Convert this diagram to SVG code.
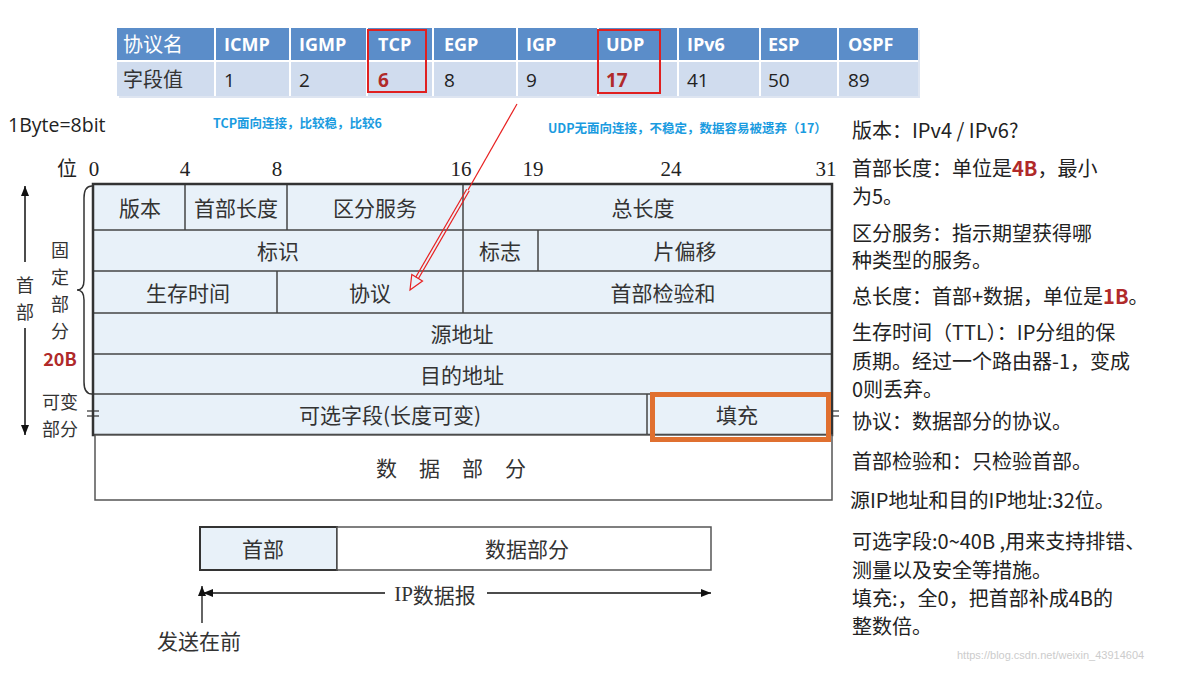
<svg xmlns="http://www.w3.org/2000/svg" width="1178" height="673" viewBox="0 0 1178 673">
<defs>
<style>
.cjk{font-family:"Noto Sans CJK SC","Noto Sans",sans-serif;}
.cell{font-family:"Noto Sans CJK SC",sans-serif;font-size:21px;fill:#333;text-anchor:middle;dominant-baseline:central;}
.side{font-family:"Noto Sans CJK SC",sans-serif;font-size:18px;fill:#333;text-anchor:middle;dominant-baseline:central;}
.bit{font-family:"Liberation Serif",serif;font-size:21px;fill:#222;text-anchor:middle;}
.th{font-family:"Open Sans","Noto Sans CJK SC",sans-serif;font-size:18px;font-weight:bold;fill:#fff;}
.td{font-family:"Open Sans","Noto Sans CJK SC",sans-serif;font-size:19px;fill:#222;}
.note{font-family:"Noto Sans CJK SC",sans-serif;font-size:20px;fill:#222;}
.red{fill:#b02a2a;font-weight:bold;}
.blue{font-family:"Noto Sans CJK SC",sans-serif;font-size:12.5px;font-weight:bold;fill:#1a9be0;}
.grid{stroke:#444;stroke-width:1.5;fill:none;}
.fld{fill:#e8f1f9;}
</style>
<marker id="ah" viewBox="0 0 10 10" refX="10" refY="5" markerWidth="10" markerHeight="10" markerUnits="userSpaceOnUse" orient="auto"><path d="M0,1 L10,5 L0,9 Z" fill="#111"/></marker>
</defs>
<rect width="1178" height="673" fill="#fff"/>

<g id="protocol-table">
<rect x="119" y="30" width="801" height="68" fill="#c8d4e8" opacity="0.6"/>
<rect x="117" y="28" width="801" height="32" fill="#5b8dc9"/>
<rect x="117" y="62" width="801" height="34" fill="#d0dcee"/>
<g stroke="#fff" stroke-width="2">
<line x1="117" y1="61" x2="918" y2="61"/>
<line x1="215" y1="28" x2="215" y2="96"/><line x1="290" y1="28" x2="290" y2="96"/><line x1="367" y1="28" x2="367" y2="96"/><line x1="433" y1="28" x2="433" y2="96"/><line x1="517" y1="28" x2="517" y2="96"/><line x1="598" y1="28" x2="598" y2="96"/><line x1="678" y1="28" x2="678" y2="96"/><line x1="760" y1="28" x2="760" y2="96"/><line x1="838" y1="28" x2="838" y2="96"/>
</g>
<text x="123" y="52" class="cjk" font-size="20" fill="#fff">协议名</text>
<text x="224" y="51" class="th">ICMP</text><text x="299" y="51" class="th">IGMP</text><text x="378" y="51" class="th">TCP</text><text x="444" y="51" class="th">EGP</text><text x="526" y="51" class="th">IGP</text><text x="606" y="51" class="th">UDP</text><text x="687" y="51" class="th">IPv6</text><text x="768" y="51" class="th">ESP</text><text x="848" y="51" class="th">OSPF</text>
<text x="123" y="87" class="cjk" font-size="20" fill="#333">字段值</text>
<text x="224" y="87" class="td">1</text><text x="299" y="87" class="td">2</text><text x="378" y="87" class="td red">6</text><text x="444" y="87" class="td">8</text><text x="526" y="87" class="td">9</text><text x="606" y="87" class="td red">17</text><text x="687" y="87" class="td">41</text><text x="768" y="87" class="td">50</text><text x="848" y="87" class="td">89</text>
<rect x="368" y="30" width="58" height="62" fill="none" stroke="#e02020" stroke-width="2"/>
<rect x="598" y="30" width="62" height="63" fill="none" stroke="#e02020" stroke-width="2"/>
</g>

<g id="annotations">
<text x="8" y="132" font-family="Open Sans,Noto Sans,sans-serif" font-size="19.5" fill="#222">1Byte=8bit</text>
<text x="213" y="128" class="blue">TCP面向连接，比较稳，比较6</text>
<text x="548" y="133" class="blue">UDP无面向连接，不稳定，数据容易被遗弃（17）</text>
</g>

<g id="bit-scale">
<text x="67" y="176" class="cjk" font-size="20" fill="#222" text-anchor="middle">位</text>
<text x="94" y="176" class="bit">0</text><text x="185" y="176" class="bit">4</text><text x="277" y="176" class="bit">8</text><text x="461" y="176" class="bit">16</text><text x="533" y="176" class="bit">19</text><text x="671" y="176" class="bit">24</text><text x="826" y="176" class="bit">31</text>
</g>

<g id="header-fields">
<rect x="93" y="184" width="739" height="251" class="fld"/>
<g class="grid">
<line x1="93" y1="230" x2="832" y2="230"/><line x1="93" y1="271" x2="832" y2="271"/><line x1="93" y1="313" x2="832" y2="313"/><line x1="93" y1="354" x2="832" y2="354"/><line x1="93" y1="394" x2="832" y2="394"/>
<line x1="185" y1="184" x2="185" y2="230"/><line x1="287" y1="184" x2="287" y2="230"/><line x1="463" y1="184" x2="463" y2="313"/><line x1="538" y1="230" x2="538" y2="271"/><line x1="277" y1="271" x2="277" y2="313"/><line x1="647" y1="394" x2="647" y2="435"/>
</g>
<rect x="93" y="184" width="739" height="251" fill="none" stroke="#333" stroke-width="2.5"/>
<text x="140" y="207" class="cell">版本</text><text x="236" y="207" class="cell">首部长度</text><text x="375" y="207" class="cell">区分服务</text><text x="643" y="207" class="cell">总长度</text>
<text x="278" y="250" class="cell">标识</text><text x="500" y="250" class="cell">标志</text><text x="685" y="250" class="cell">片偏移</text>
<text x="188" y="292" class="cell">生存时间</text><text x="370" y="292" class="cell">协议</text><text x="663" y="292" class="cell">首部检验和</text>
<text x="462" y="333" class="cell">源地址</text>
<text x="462" y="374" class="cell">目的地址</text>
<text x="390" y="414" class="cell">可选字段(长度可变)</text>
<g stroke="#333" stroke-width="1.2"><line x1="87" y1="411" x2="99" y2="411"/><line x1="87" y1="416" x2="99" y2="416"/><line x1="827" y1="411" x2="839" y2="411"/><line x1="827" y1="416" x2="839" y2="416"/></g>
</g>

<g id="data-part">
<rect x="95" y="435" width="737" height="65" fill="#fff" stroke="#555" stroke-width="1.5"/>
<text x="462" y="467" class="cell" letter-spacing="22">数据部分</text>
</g>

<g id="padding-highlight">
<rect x="652.5" y="394.5" width="176" height="45" fill="none" stroke="#e07030" stroke-width="5"/>
<text x="737" y="414" class="cell">填充</text>
</g>

<g id="left-labels">
<text x="25" y="284" class="side" font-size="19">首</text><text x="25" y="311" class="side" font-size="19">部</text>
<text x="60" y="249" class="side">固</text><text x="60" y="276" class="side">定</text><text x="60" y="303" class="side">部</text><text x="60" y="330" class="side">分</text>
<text x="60" y="358" class="side red" font-family="Open Sans,sans-serif" font-size="18">20B</text>
<text x="60" y="401" class="side">可变</text><text x="60" y="428" class="side">部分</text>
<path d="M92,186 Q84,186 84,198 L84,280 Q84,290 77,290 Q84,290 84,300 L84,382 Q84,394 92,394" fill="none" stroke="#333" stroke-width="1.5"/>
</g>

<g id="datagram">
<rect x="200" y="527" width="137" height="43" fill="#e8f1f9" stroke="#333" stroke-width="2"/>
<rect x="337" y="527" width="374" height="43" fill="#fff" stroke="#555" stroke-width="1.5"/>
<text x="263" y="548" class="cell">首部</text>
<text x="527" y="548" class="cell">数据部分</text>
<text x="435" y="594" class="cell"><tspan font-family="Liberation Serif,serif">IP</tspan>数据报</text>
<text x="199" y="640" class="cell">发送在前</text>
</g>

<g id="connectors">
<line x1="25" y1="262" x2="25" y2="186" stroke="#111" stroke-width="1.5" marker-end="url(#ah)"/>
<line x1="25" y1="328" x2="25" y2="435" stroke="#111" stroke-width="1.5" marker-end="url(#ah)"/>
<line x1="385" y1="593" x2="203" y2="593" stroke="#111" stroke-width="1.3" marker-end="url(#ah)"/>
<line x1="487" y1="593" x2="711" y2="593" stroke="#111" stroke-width="1.3" marker-end="url(#ah)"/>
<line x1="202" y1="623" x2="202" y2="586" stroke="#111" stroke-width="1.3" marker-end="url(#ah)"/>
<g stroke="#e82020" stroke-width="1.2" fill="none">
<line x1="517" y1="104" x2="468" y2="190"/>
<line x1="469.3" y1="190.7" x2="418.3" y2="278.8"/>
<line x1="466.7" y1="189.3" x2="415.7" y2="277.2"/>
<polygon points="410,290 422.5,281 411.8,274.5"/>
</g>
</g>

<g id="notes">
<text x="852" y="138" class="note">版本：IPv4 / IPv6?</text>
<text x="852" y="176" class="note">首部长度：单位是<tspan class="red">4B</tspan>，最小</text>
<text x="852" y="204" class="note">为5。</text>
<text x="852" y="241" class="note">区分服务：指示期望获得哪</text>
<text x="852" y="268" class="note">种类型的服务。</text>
<text x="852" y="304" class="note">总长度：首部+数据，单位是<tspan class="red">1B</tspan>。</text>
<text x="852" y="340" class="note">生存时间（TTL）：IP分组的保</text>
<text x="852" y="369" class="note">质期。经过一个路由器-1，变成</text>
<text x="852" y="397" class="note">0则丢弃。</text>
<text x="852" y="429" class="note">协议：数据部分的协议。</text>
<text x="852" y="469" class="note">首部检验和：只检验首部。</text>
<text x="850" y="508" class="note">源IP地址和目的IP地址:32位。</text>
<text x="852" y="549" class="note">可选字段:0~40B ,用来支持排错、</text>
<text x="852" y="578" class="note">测量以及安全等措施。</text>
<text x="852" y="606" class="note">填充:，全0，把首部补成4B的</text>
<text x="852" y="634" class="note">整数倍。</text>
<text x="957" y="659" font-family="Liberation Sans,sans-serif" font-size="11" fill="#ccc">https://blog.csdn.net/weixin_43914604</text>
</g>
</svg>
